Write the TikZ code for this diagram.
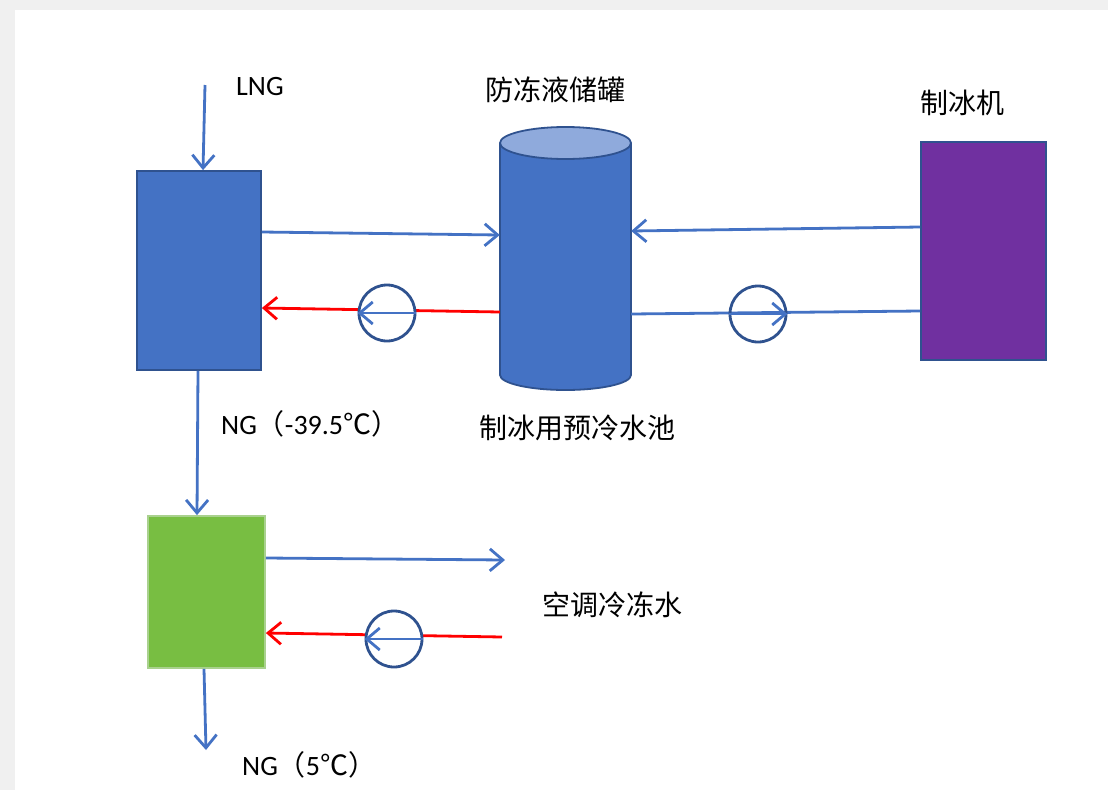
\documentclass[tikz,border=0pt]{standalone}
\usepackage{fontspec}
\setmainfont{Carlito}
\newfontfamily\cjk{Noto Sans CJK SC}
\usetikzlibrary{arrows.meta}
\definecolor{fillblue}{HTML}{4472C4}
\definecolor{edgeblue}{HTML}{2F528F}
\definecolor{lightblue}{HTML}{8FAADC}
\definecolor{purplebox}{HTML}{7030A0}
\definecolor{greenbox}{HTML}{78BE42}
\definecolor{greenedge}{HTML}{A9D18E}
\definecolor{redline}{HTML}{FF0000}
\definecolor{pagegray}{HTML}{F0F0F0}
\begin{document}
\begin{tikzpicture}[x=1pt,y=-1pt,
  barb/.style={-{Straight Barb[length=13pt,width=22pt,line width=2.8pt]}},
  flow/.style={line width=2.8pt, draw=fillblue, barb},
  hot/.style={line width=2.8pt, draw=redline, barb},
  unit/.style={draw=edgeblue, line width=1.8pt, inner sep=0pt},
  pump/.style={circle, draw=edgeblue, line width=2.8pt, minimum size=56pt, inner sep=0pt},
  lbl/.style={font=\fontsize{28}{32}\selectfont, inner sep=0pt},
  clbl/.style={font=\cjk\fontsize{28}{32}\selectfont, inner sep=0pt}]
\useasboundingbox (0,0) rectangle (1108,790);
\fill[pagegray] (0,0) rectangle (1108,790);
\fill[white] (15,10) rectangle (1108,790);

% units
\node[unit, fill=fillblue, minimum width=124pt, minimum height=199pt] (hx1) at (199,270.5) {};
\node[unit, fill=purplebox, minimum width=125pt, minimum height=218pt] (ice) at (983.5,251) {};
\node[draw=greenedge, fill=greenbox, line width=1.8pt, minimum width=117pt, minimum height=152pt, inner sep=0pt] (hx2) at (206.5,592) {};

% tank (cylinder)
\node[minimum width=131pt, minimum height=264pt, inner sep=0pt] (tank) at (565.5,259) {};
\fill[fillblue] (500,143) rectangle (631,375);
\fill[fillblue] (565.5,375) ellipse [x radius=65.5, y radius=15];
\draw[edgeblue, line width=1.8pt] (500,143) -- (500,375) (631,143) -- (631,375);
\begin{scope}
\clip (480,375) rectangle (650,400);
\draw[edgeblue, line width=1.8pt] (565.5,375) ellipse [x radius=65.5, y radius=15];
\end{scope}
\draw[edgeblue, line width=1.8pt, fill=lightblue] (565.5,143) ellipse [x radius=65.5, y radius=16];

% free ends
\coordinate (lngin) at (205,85);
\coordinate (ngout) at (206,750);
\coordinate (acout) at (505,560);
\coordinate (acin) at (502,637);

% flows
\draw[flow] (lngin) -- (hx1.north -| 203,0);
\draw[flow] (hx1.south -| 198,0) -- (hx2.north -| 197,0);
\draw[flow] (hx2.south -| 204,0) -- (ngout);
\draw[flow] (hx1.east |- 0,232) -- (tank.west |- 0,235);
\draw[flow] (ice.west |- 0,227) -- (tank.east |- 0,231);
\draw[flow] (hx2.east |- 0,558) -- (acout);

% red return lines
\draw[hot] (tank.west |- 0,312) -- (hx1.east |- 0,308);
\draw[hot] (acin) -- (hx2.east |- 0,633);

% pumps
\node[pump, fill=white] (p1) at (387,313) {};
\draw[flow] (p1.east) -- (p1.west);
\node[pump, fill=white] (p3) at (394,639) {};
\draw[flow] (p3.east) -- (p3.west);
\draw[line width=2.8pt, fillblue] (tank.east |- 0,314) -- (ice.west |- 0,311);
\node[pump] (p2) at (758,314) {};
\draw[flow] (p2.west) -- (p2.east);

% labels
\node[lbl, anchor=west] (tlng) at (236,87) {LNG};
\node[lbl, anchor=west] (tng1) at (221,424) {NG{\cjk （}-39.5{\cjk ℃）}};
\node[lbl, anchor=west] (tng2) at (242,765) {NG{\cjk （}5{\cjk ℃）}};
\node[clbl] (ttank) at (555,90) {防冻液储罐};
\node[clbl] (tpool) at (577,428) {制冰用预冷水池};
\node[clbl] (tice) at (962,103) {制冰机};
\node[clbl] (tac) at (612,605) {空调冷冻水};
\end{tikzpicture}
\end{document}
